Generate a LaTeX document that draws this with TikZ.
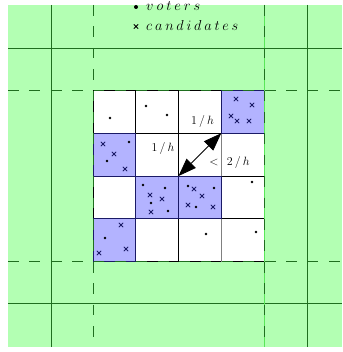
\documentclass[tikz,border=0pt]{standalone}
\usetikzlibrary{arrows.meta}
\definecolor{lgreen}{HTML}{B3FFB3}
\definecolor{dgreen}{HTML}{1F6E1F}
\definecolor{bgreen}{HTML}{5AE65A}
\definecolor{lblue}{HTML}{B3B3FF}
\definecolor{dblue}{HTML}{1A1A66}
\begin{document}
\begin{tikzpicture}[x=1pt,y=-1pt,
  gline/.style={dgreen,line width=0.9pt},
  dline/.style={dgreen,line width=0.9pt,dash pattern=on 10.7pt off 10.7pt},
  wcell/.style={fill=white,draw=black,line width=0.7pt},
  bcell/.style={fill=lblue,draw=dblue,line width=0.9pt},
  xm/.pic={\draw[dblue,line width=0.8pt] (-2.2,-2.2)--(2.2,2.2) (-2.2,2.2)--(2.2,-2.2);},
  xk/.pic={\draw[black,line width=0.8pt] (-2.2,-2.2)--(2.2,2.2) (-2.2,2.2)--(2.2,-2.2);},
  lbl/.style={inner sep=0pt,font=\fontsize{12.5}{14}\selectfont},
  leg/.style={inner sep=0pt,anchor=base west,font=\fontsize{13.5}{15}\selectfont},
  bigtip/.tip={Triangle[length=18pt,width=13pt]}]
\useasboundingbox (0,0) rectangle (342,352);
% green background
\fill[lgreen] (8,5) rectangle (342,347);
% solid grid lines
\draw[gline] (51,5) -- (51,347);
\draw[gline] (307,5) -- (307,347);
\draw[gline] (8,48) -- (342,48);
\draw[gline] (8,303) -- (342,303);
% cells
\def\cw{42.75}
\def\ch{42.75}
\foreach \i/\j in {0/0,1/0,2/0,1/1,2/1,3/1,0/2,3/2,1/3,2/3,3/3}{
  \draw[wcell] (93+\i*\cw,90.5+\j*\ch) rectangle ++(\cw,\ch);
}
\draw[gray,line width=0.9pt] (221.25,133.25) -- (221.25,261.5);
\foreach \i/\j in {3/0,0/1,1/2,2/2,0/3}{
  \draw[bcell] (93+\i*\cw,90.5+\j*\ch) rectangle ++(\cw,\ch);
}
% bright green edge
\draw[bgreen,line width=0.9pt] (264.5,5) -- (264.5,347);
% dashed lines
\draw[dline] (93,5) -- (93,347);
\draw[dline] (264,5) -- (264,347);
\draw[dline] (8,90.5) -- (342,90.5);
\draw[dline] (8,261.5) -- (342,261.5);
% voters
\foreach \p in {(110,118),(146,106),(167,115),(129,142),(107,161),
  (143,185),(165,188),(151,203),(168,211),(188,186),(214,188),(196,207),
  (252,182),(105,238),(206,234),(256,232)}{
  \fill[black] \p circle (1.4);
}
% candidates
\foreach \p in {(236,99),(252,105),(231,116),(237,121),(249,121),
  (103,144),(114,154),(125,169),
  (150,195),(162,199),(151,212),
  (194,189),(202,196),(188,205),(213,207),
  (121,225),(126,249),(99,253)}{
  \pic at \p {xm};
}
% arrow
\coordinate (pa) at (178.5,176);
\coordinate (pb) at (221.25,133.25);
\draw[line width=0.8pt,bigtip-bigtip] (pa) -- (pb);
% labels
\node[lbl] (h1) at (202.5,122) {$1\kern2.2pt/\kern2.2pt h$};
\node[lbl] (h2) at (163,149) {$1\kern2.2pt/\kern2.2pt h$};
\node[lbl] (h3) at (229.5,163) {$<\kern5pt 2\kern2.2pt/\kern2.2pt h$};
% legend
\fill[black] (136,7) circle (2);
\node[leg] (lv) at (146,10.5) {$v\kern3pt o\kern3pt t\kern3pt e\kern3pt r\kern3pt s$};
\pic at (136,26.5) {xk};
\node[leg] (lc) at (146,30.5) {$c\kern2.8pt a\kern2.8pt n\kern2.8pt d\kern2.8pt i\kern2.8pt d\kern2.8pt a\kern2.8pt t\kern2.8pt e\kern2.8pt s$};
\end{tikzpicture}
\end{document}
